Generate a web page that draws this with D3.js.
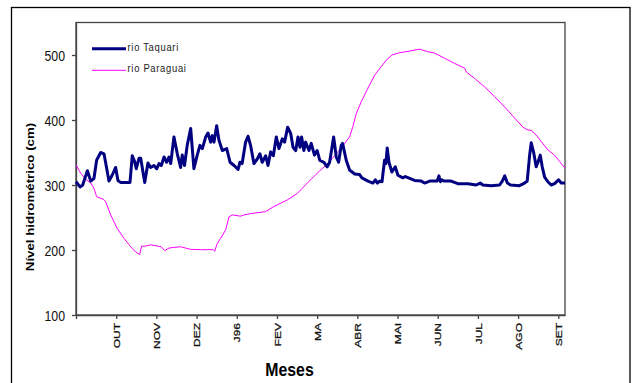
<!DOCTYPE html>
<html>
<head>
<meta charset="utf-8">
<script src="https://cdn.jsdelivr.net/npm/d3@7"></script>
<style>
  html, body { margin: 0; padding: 0; background: #fff; }
  svg { display: block; font-family: "Liberation Sans", Arial, sans-serif; }
</style>
</head>
<body>
<div id="chart"></div>
<script>
// Chart data (day index from start of september 1995, level in cm)
const monthLabels = ['', 'OUT', 'NOV', 'DEZ', 'J96', 'FEV', 'MA', 'ABR', 'MAI', 'JUN', 'JUL', 'AGO', 'SET'];
const monthDays = [0, 30, 60, 90, 120, 150, 180, 210, 240, 270, 300, 330, 360];
const yTicks = [100, 200, 300, 400, 500];

const taquari = [
  [0, 305], [3, 297], [5, 300], [8.5, 322], [11, 306], [13.4, 310], [15.4, 338], [18.4, 350], [20.9, 348],
  [23.4, 320], [24.6, 306], [27, 315], [29.6, 327], [31.3, 307], [33.3, 304], [40.3, 304], [42, 345],
  [43.8, 336], [45, 325], [47, 341], [48.3, 341], [51.3, 304], [53.7, 334], [55.7, 327], [58.2, 330],
  [60.2, 325], [62, 333], [63.7, 330], [65.7, 343], [67.7, 335], [69.4, 343], [70.7, 333], [73.1, 374],
  [75.6, 348], [78.1, 327], [79.3, 346], [81, 330], [83, 361], [85.6, 387], [88, 325], [90.5, 346],
  [92.5, 361], [94.3, 356], [96.8, 374], [98.5, 380], [100.5, 366], [101.7, 376], [103, 366], [105, 391],
  [106.7, 369], [109.2, 353], [112.5, 356], [115, 335], [118, 330], [121, 324], [122.4, 335], [124, 333],
  [126.6, 366], [128.4, 375], [130.3, 361], [132.8, 333], [135.3, 340], [137.3, 348], [139, 335],
  [141.6, 345], [143.3, 330], [145.3, 351], [147.3, 345], [149.5, 374], [151.5, 356], [154, 371],
  [155.7, 366], [158, 389], [160.3, 379], [162, 358], [164, 353], [165.7, 374], [167.2, 358], [168.4, 374],
  [170.1, 353], [171.4, 366], [173.9, 353], [175.6, 364], [178, 346], [180, 353], [182, 338], [185, 335],
  [187.5, 328], [189.3, 335], [192.3, 374], [194.3, 343], [196, 335], [198, 361], [199, 364], [201.7, 338],
  [204.2, 323], [208, 317], [211.7, 316], [213.4, 311], [218, 306], [221.6, 303], [223.4, 308], [225, 303],
  [226.6, 306], [228.4, 305], [230.3, 338], [231.3, 333], [232.3, 357], [233.6, 335], [235.8, 320],
  [238.3, 328], [240.3, 315], [244, 311], [245.8, 313], [248.2, 311], [252.7, 307], [257.7, 306],
  [260.2, 303], [264, 306], [269.6, 306], [270.9, 314], [272, 305], [273, 308], [274.5, 306], [280, 306],
  [285, 302], [292.5, 302], [298.7, 300], [301.7, 303], [303.7, 300], [310, 299], [316.2, 300],
  [318.2, 306], [320, 314], [322, 303], [324.4, 300], [331, 299], [334.8, 303], [336.8, 306], [338.6, 346],
  [339.8, 365], [341.5, 351], [343.5, 328], [344.8, 335], [346.5, 346], [348, 328], [349.8, 312],
  [352.2, 305], [354.7, 300], [357.2, 302], [360.2, 308], [362.2, 303], [365, 303]
];

const paraguai = [
  [0, 331], [3.5, 318], [7.2, 309], [11, 303], [13.4, 295], [15.4, 282], [20.4, 278], [22, 275], [25.9, 254],
  [30.8, 233], [35.8, 218], [40.8, 205], [44.5, 197], [47.5, 193], [49, 206], [51.7, 206], [55.7, 208],
  [60.7, 206], [63.6, 205], [66.2, 199], [69.4, 203], [73.1, 204], [78.1, 205], [81.8, 203], [85.6, 201],
  [93, 200.5], [102.5, 200.5], [103.5, 198], [105.4, 210], [108, 218], [111.7, 231], [114.2, 251],
  [116.7, 254], [122.9, 252], [125.4, 254], [130.3, 256], [141.5, 259], [147.8, 267], [157.7, 277],
  [165.2, 287], [172.6, 303], [182, 322], [188, 333], [195.5, 351], [200.5, 364], [204.2, 374],
  [206.7, 390], [209.2, 410], [212.9, 428], [217.9, 449], [222.9, 469], [227.8, 482], [231.6, 492],
  [235.8, 500], [241.5, 503.5], [249, 506], [256.5, 509], [262.7, 505], [267.7, 503], [275.1, 495],
  [282.6, 487], [290, 480], [291.3, 474], [297.5, 464], [305, 451], [312.4, 436], [320, 420], [327.4, 403],
  [333.6, 389], [336.8, 385], [339.8, 384], [343.5, 377], [347.2, 367], [352.2, 354], [357.2, 346],
  [361, 336], [365, 326]
];

// Dimensions
const width = 632;
const height = 383;
const plot = { left: 76, top: 22.5, right: 565, bottom: 315 };
const squeeze = 0.88; // text in the source is a bit narrow

const svg = d3.select('#chart')
  .append('svg')
    .attr('width', width)
    .attr('height', height);

// Outer frame
svg.append('rect')
  .attr('x', 11.5).attr('y', 7.5)
  .attr('width', 618.5).attr('height', 390)
  .attr('fill', 'none')
  .attr('stroke', '#000')
  .attr('stroke-width', 1.3);

// Scales
const xScale = d3.scaleLinear()
  .domain([0, 365])
  .range([plot.left, plot.right]);

const yScale = d3.scaleLinear()
  .domain([100, 550])
  .range([plot.bottom, plot.top]);

// Plot box (top / right sides)
svg.append('rect')
  .attr('x', plot.left).attr('y', plot.top)
  .attr('width', plot.right - plot.left).attr('height', plot.bottom - plot.top)
  .attr('fill', 'none')
  .attr('stroke', '#444')
  .attr('stroke-width', 1.3);

// Y axis
const yAxis = svg.append('g')
  .attr('transform', `translate(${plot.left}, 0)`)
  .call(d3.axisLeft(yScale).tickValues(yTicks).tickSize(4).tickSizeOuter(0));

yAxis.selectAll('text')
  .attr('x', -11 / squeeze)
  .attr('dy', '0.36em')
  .attr('transform', `scale(${squeeze},1)`)
  .style('font-size', '14px')
  .attr('fill', '#111');

// X axis
const xAxis = svg.append('g')
  .attr('transform', `translate(0, ${plot.bottom})`)
  .call(d3.axisBottom(xScale)
    .tickValues(monthDays)
    .tickFormat((d, i) => monthLabels[i])
    .tickSize(4)
    .tickSizeOuter(0));

xAxis.selectAll('text')
  .attr('text-anchor', 'end')
  .attr('x', -8)
  .attr('y', 0)
  .attr('dy', '0.36em')
  .attr('transform', 'scale(0.74,1) rotate(-90)')
  .style('font-size', '12px')
  .attr('fill', '#111')
  .attr('stroke', '#111')
  .attr('stroke-width', 0.35);

svg.selectAll('.domain, .tick line')
  .attr('stroke', '#444')
  .attr('stroke-width', 1.3);

// Axis titles
svg.append('text')
  .attr('transform', `translate(34, 197) scale(${squeeze},1) rotate(-90)`)
  .attr('text-anchor', 'middle')
  .style('font-size', '13.3px')
  .style('font-weight', 'bold')
  .text('Nível hidrométrico (cm)');

svg.append('text')
  .attr('transform', `translate(289.5, 376) scale(${squeeze},1)`)
  .attr('text-anchor', 'middle')
  .style('font-size', '18px')
  .style('font-weight', 'bold')
  .text('Meses');

// Lines
const line = d3.line()
  .x((d) => xScale(d[0]))
  .y((d) => yScale(d[1]));

svg.append('path')
  .datum(paraguai)
  .attr('fill', 'none')
  .attr('stroke', '#ff00ff')
  .attr('stroke-width', 1)
  .attr('d', line);

svg.append('path')
  .datum(taquari)
  .attr('fill', 'none')
  .attr('stroke', '#000080')
  .attr('stroke-width', 3)
  .attr('stroke-linejoin', 'round')
  .attr('d', line);

// Legend
const legend = [
  { name: 'rio Taquari', color: '#000080', width: 3, y: 48.7 },
  { name: 'rio Paraguai', color: '#ff00ff', width: 1, y: 70.3 }
];

const items = svg.selectAll('.legend')
  .data(legend)
  .join('g')
    .attr('class', 'legend');

items.append('line')
  .attr('x1', 92).attr('x2', 126)
  .attr('y1', (d) => d.y).attr('y2', (d) => d.y)
  .attr('stroke', (d) => d.color)
  .attr('stroke-width', (d) => d.width);

items.append('text')
  .attr('transform', (d) => `translate(127.5, ${d.y + 2}) scale(${squeeze},1)`)
  .style('font-size', '10.7px')
  .style('letter-spacing', '0.8px')
  .attr('fill', '#222')
  .text((d) => d.name);
</script>
</body>
</html>
